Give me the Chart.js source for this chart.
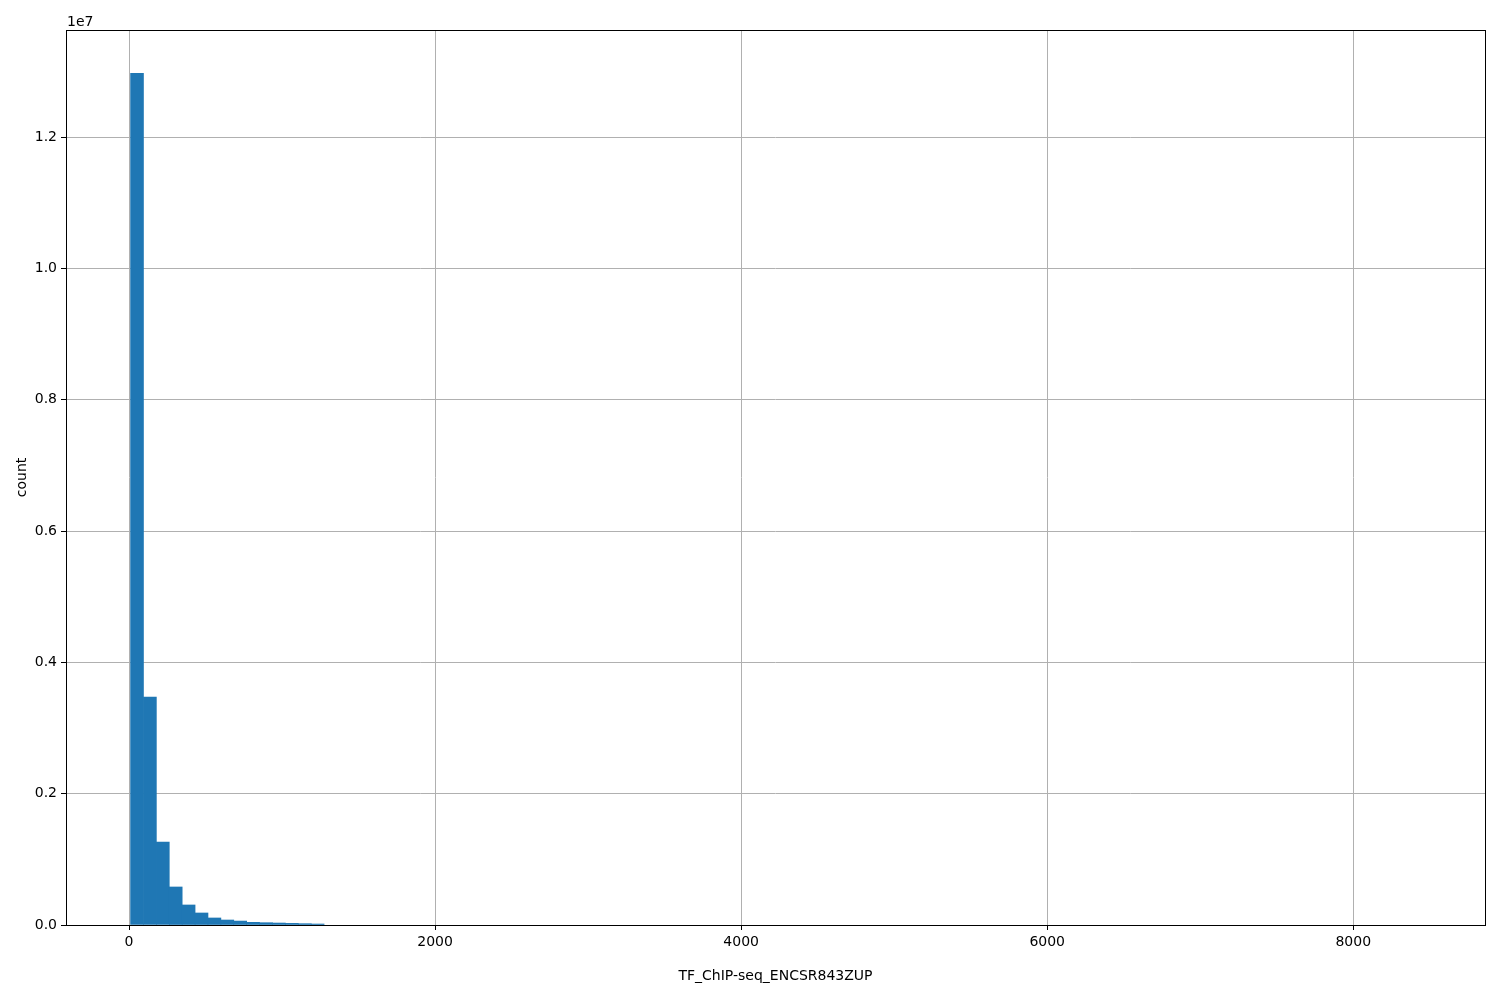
<!DOCTYPE html>
<html>
<head>
<meta charset="utf-8">
<script src="https://cdn.jsdelivr.net/npm/chart.js@4"></script>
<style>
  html, body { margin: 0; padding: 0; background: #fff; }
  #wrap { width: 1500px; height: 1000px; }
</style>
</head>
<body>
<div id="wrap"><canvas id="hist"></canvas></div>
<script>
// histogram: 100 equal bins between binMin and binMax
const binMin = 10
const binMax = 8440
const counts = [
  12970000, 3470000, 1264000, 579000, 305000, 183000, 107000, 76000, 60000, 41000,
  35000, 30000, 25000, 20000, 15000, 2500, 1800, 1400, 1100, 900,
  700, 600, 500, 420, 360, 300, 250, 210, 180, 150,
  130, 110, 95, 80, 70, 60, 50, 45, 40, 35,
  30, 26, 22, 19, 16, 14, 12, 10, 9, 8,
  7, 6, 5, 5, 4, 4, 3, 3, 3, 2,
  2, 2, 2, 1, 1, 1, 1, 1, 0, 1,
  0, 1, 0, 0, 1, 0, 0, 0, 1, 0,
  0, 0, 0, 0, 0, 0, 0, 0, 0, 0,
  0, 0, 0, 0, 0, 0, 0, 0, 0, 1
]
const xTicks = [0, 2000, 4000, 6000, 8000]
const yTicks = [0, 0.2, 0.4, 0.6, 0.8, 1.0, 1.2]   // x 1e7
const xLabel = "TF_ChIP-seq_ENCSR843ZUP"
const yLabel = "count"

const binWidth = (binMax - binMin) / counts.length
// bins far below one pixel are skipped, they vanish in the original too
const points = counts.map((c, i) => ({ x: binMin + binWidth * (i + 0.5), y: c < 3000 ? null : c / 1e7 }))

const font = { family: "DejaVu Sans", size: 14 }

const frame = {
  id: "frame",
  afterDraw(chart) {
    const { ctx, chartArea: a } = chart
    ctx.save()
    ctx.strokeStyle = "#000"
    ctx.lineWidth = 1
    ctx.strokeRect(Math.round(a.left) + 0.5, Math.round(a.top) + 0.5,
      Math.round(a.right - a.left), Math.round(a.bottom - a.top))
    ctx.fillStyle = "#000"
    ctx.font = "14px 'DejaVu Sans'"
    ctx.textAlign = "left"
    ctx.textBaseline = "alphabetic"
    ctx.fillText("1e7", a.left + 1, a.top - 4)
    ctx.restore()
  }
}

new Chart(document.getElementById("hist"), {
  type: "bar",
  data: {
    datasets: [{
      data: points,
      backgroundColor: "#1f77b4",
      borderWidth: 0,
      barPercentage: 1,
      categoryPercentage: 1,
    }]
  },
  options: {
    responsive: true,
    maintainAspectRatio: false,
    animation: false,
    layout: { padding: { top: 30, right: 15, left: 0, bottom: 0 } },
    plugins: { legend: { display: false }, tooltip: { enabled: false } },
    scales: {
      x: {
        type: "linear",
        min: -412,
        max: 8861,
        offset: false,
        z: 1,
        afterBuildTicks: (s) => { s.ticks = xTicks.map(v => ({ value: v })) },
        afterFit: (s) => { s.height = 75 },
        ticks: { color: "#000", font, padding: 4, maxRotation: 0, callback: (v) => String(v) },
        grid: { color: "#b0b0b0", lineWidth: 1, tickColor: "#000", tickLength: 5, offset: false },
        border: { display: false },
        title: { display: true, text: xLabel, color: "#000", font, padding: { top: 0, bottom: 15 } },
      },
      y: {
        min: 0,
        max: 1.3631,
        z: 1,
        afterBuildTicks: (s) => { s.ticks = yTicks.map(v => ({ value: v })) },
        afterFit: (s) => { s.width = 66 },
        ticks: { color: "#000", font, padding: 4, callback: (v) => v.toFixed(1) },
        grid: { color: "#b0b0b0", lineWidth: 1, tickColor: "#000", tickLength: 5 },
        border: { display: false },
        title: { display: true, text: yLabel, color: "#000", font, padding: { top: 14, bottom: 0 } },
      },
    },
  },
  plugins: [frame],
})
</script>
</body>
</html>
